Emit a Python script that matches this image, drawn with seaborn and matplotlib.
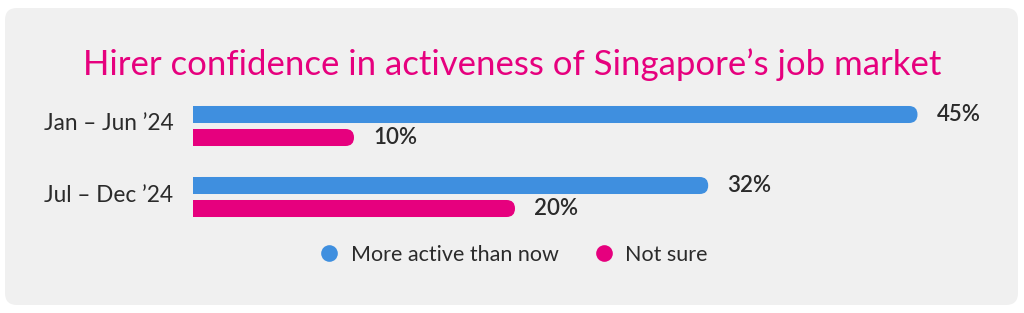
import matplotlib
matplotlib.use("Agg")
import matplotlib.pyplot as plt
import matplotlib.transforms as mtransforms
from matplotlib.patches import FancyBboxPatch
from matplotlib.lines import Line2D
import seaborn as sns
import pandas as pd

periods = ["Jan – Jun ’24", "Jul – Dec ’24"]
series_names = ["More active than now", "Not sure"]
more_active = [45, 32]
not_sure = [10, 20]
title = "Hirer confidence in activeness of Singapore’s job market"

BLUE = "#3f8fdf"
PINK = "#e6007e"
TEXT = "#2b2b2b"
PANEL = "#f0f0f0"

df = pd.DataFrame({
    "period": periods * 2,
    "series": [series_names[0]] * 2 + [series_names[1]] * 2,
    "value": more_active + not_sure,
})

sns.set_theme(style="white")
plt.rcParams["font.family"] = ["Lato", "DejaVu Sans"]

W, H = 1024, 313
fig = plt.figure(figsize=(W / 100, H / 100), dpi=100)
fig.patch.set_facecolor("white")

# background panel
panel = FancyBboxPatch((5 / W, 8 / H), (1018 - 5) / W, (305 - 8) / H,
                       boxstyle=f"round,pad=0,rounding_size={12 / W}",
                       mutation_aspect=W / H, transform=fig.transFigure,
                       facecolor=PANEL, edgecolor="none", zorder=-5)
fig.patches.append(panel)

ax_left, ax_right = 193, 998
ax_top, ax_bot = 90.5, 232.5
ax = fig.add_axes([ax_left / W, (H - ax_bot) / H, (ax_right - ax_left) / W, (ax_bot - ax_top) / H])
ax.set_facecolor("none")
ax.set_zorder(2)

sns.barplot(data=df, y="period", x="value", hue="series", orient="h",
            palette=[BLUE, PINK], width=0.648, gap=0.26, ax=ax, legend=False,
            saturation=1)

XMAX = 50
ax.set_xlim(0, XMAX)
ax.set_ylim(1.5, -0.5)

for c in ax.containers:
    ax.bar_label(c, fmt="%g%%", padding=14, fontsize=16, color=TEXT,
                 fontweight="semibold")

# rounded right ends
xpp = XMAX / (ax_right - ax_left)
ypp = 2.0 / (ax_bot - ax_top)
for p in list(ax.patches):
    x0, y0, w, h = p.get_x(), p.get_y(), p.get_width(), p.get_height()
    r_px = (h / ypp) / 2
    rx = r_px * xpp
    rb = FancyBboxPatch((x0, y0), w, h,
                        boxstyle=f"round,pad=0,rounding_size={rx}",
                        mutation_aspect=ypp / xpp,
                        facecolor=p.get_facecolor(), edgecolor="none", zorder=2)
    ax.add_patch(rb)
    p.set_width(max(w - rx, 0))
    p.set_edgecolor("none")

for s in ax.spines.values():
    s.set_visible(False)
ax.set_xticks([])
ax.set_xlabel("")
ax.set_ylabel("")
ax.tick_params(axis="y", length=0, pad=14, labelsize=16.3, labelcolor=TEXT)
shift = mtransforms.ScaledTranslation(0, 4 / 100, fig.dpi_scale_trans)
for lab in ax.get_yticklabels():
    lab.set_transform(lab.get_transform() + shift)

fig.text(0.5, (H - 65) / H, title, ha="center", va="center",
         fontsize=25, color=PINK, zorder=3)

handles = [Line2D([], [], marker="o", linestyle="none", markersize=12,
                  markerfacecolor=col, markeredgecolor="none")
           for col in (BLUE, PINK)]
leg = fig.legend(handles, series_names, loc="center", bbox_to_anchor=(513 / W, (H - 255) / H),
                 ncol=2, frameon=False, fontsize=15.5, handletextpad=0.5,
                 columnspacing=1.6, labelcolor=TEXT, handlelength=1.0)
leg.set_zorder(3)

fig.savefig("out.png", dpi=100, facecolor="white")
